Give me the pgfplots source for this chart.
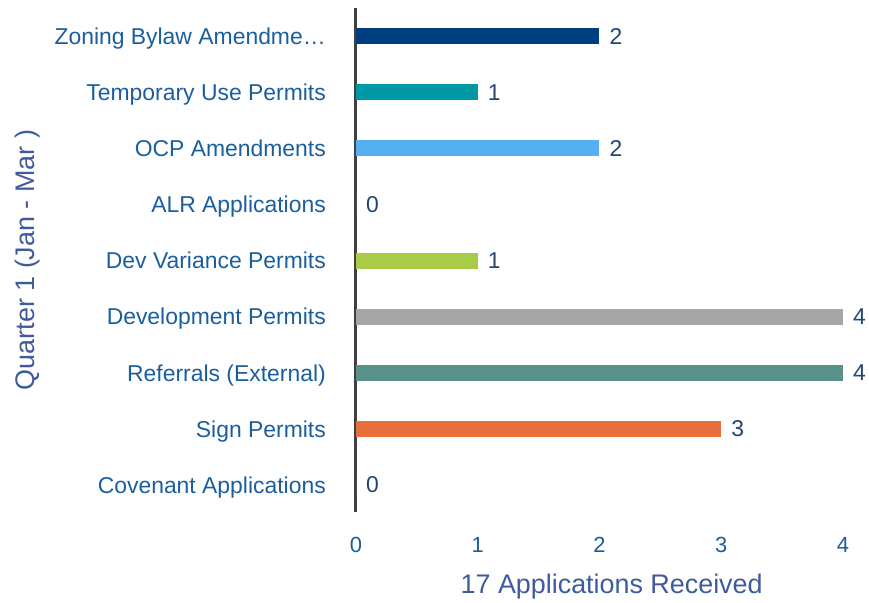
\documentclass[border=0pt]{standalone}
\usepackage{fontspec}
\setmainfont{Liberation Sans}
\usepackage{pgfplots}
\pgfplotsset{compat=1.18}
\definecolor{labblue}{HTML}{1A5E9E}
\definecolor{valblue}{HTML}{24466E}
\definecolor{axlab}{HTML}{3F5B9C}
\definecolor{axline}{HTML}{404040}
\definecolor{c1}{HTML}{003F7F}
\definecolor{c2}{HTML}{0099A3}
\definecolor{c3}{HTML}{56AFF0}
\definecolor{c4}{HTML}{A8CC48}
\definecolor{c5}{HTML}{A5A5A5}
\definecolor{c6}{HTML}{5A918A}
\definecolor{c7}{HTML}{E66F3C}
\begin{document}
\begin{tikzpicture}
\useasboundingbox (-356bp,-91bp) rectangle (513bp,512bp);
\begin{axis}[
  scale only axis,
  width=487bp, height=504bp,
  xmin=0, xmax=4, ymin=-0.48, ymax=8.5,
  xbar, bar width=16bp, bar shift=0pt,
  clip=false,
  axis lines=left,
  x axis line style={draw=none},
  y axis line style={line width=3bp, color=axline, -},
  major tick length=0pt,
  xtick={0,1,2,3,4},
  ytick={0,...,8},
  yticklabels={Covenant Applications, Sign Permits, Referrals (External), Development Permits, Dev Variance Permits, ALR Applications, OCP Amendments, Temporary Use Permits, {Zoning Bylaw Amendme…}},
  /pgf/number format/assume math mode=true,
  xticklabel style={font=\fontsize{22}{24}\selectfont, text=labblue, anchor=base, yshift=-40bp, inner sep=0pt},
  yticklabel style={font=\fontsize{23}{26}\selectfont, text=labblue, anchor=base east, yshift=-8.2bp, xshift=-30bp, inner sep=0pt},
  xlabel={17 Applications Received},
  xlabel style={font=\fontsize{27}{30}\selectfont, text=axlab, at={(axis description cs:0.525,0)}, anchor=base, yshift=-81bp, inner sep=0pt},
  ylabel={Quarter 1 (Jan - Mar )},
  ylabel style={font=\fontsize{27}{30}\selectfont, text=axlab, at={(axis description cs:-0.675,0.5)}, anchor=center, inner sep=0pt},
  nodes near coords,
  nodes near coords style={font=\fontsize{23}{25}\selectfont, text=valblue, anchor=west, xshift=10bp, inner sep=0pt},
  every axis plot/.append style={draw=none},
]
\addplot[fill=c1] coordinates {(2,8)};
\addplot[fill=c2] coordinates {(1,7)};
\addplot[fill=c3] coordinates {(2,6)};
\addplot[fill=c3] coordinates {(0,5)};
\addplot[fill=c4] coordinates {(1,4)};
\addplot[fill=c5] coordinates {(4,3)};
\addplot[fill=c6] coordinates {(4,2)};
\addplot[fill=c7] coordinates {(3,1)};
\addplot[fill=c7] coordinates {(0,0)};
\end{axis}
\end{tikzpicture}
\end{document}
